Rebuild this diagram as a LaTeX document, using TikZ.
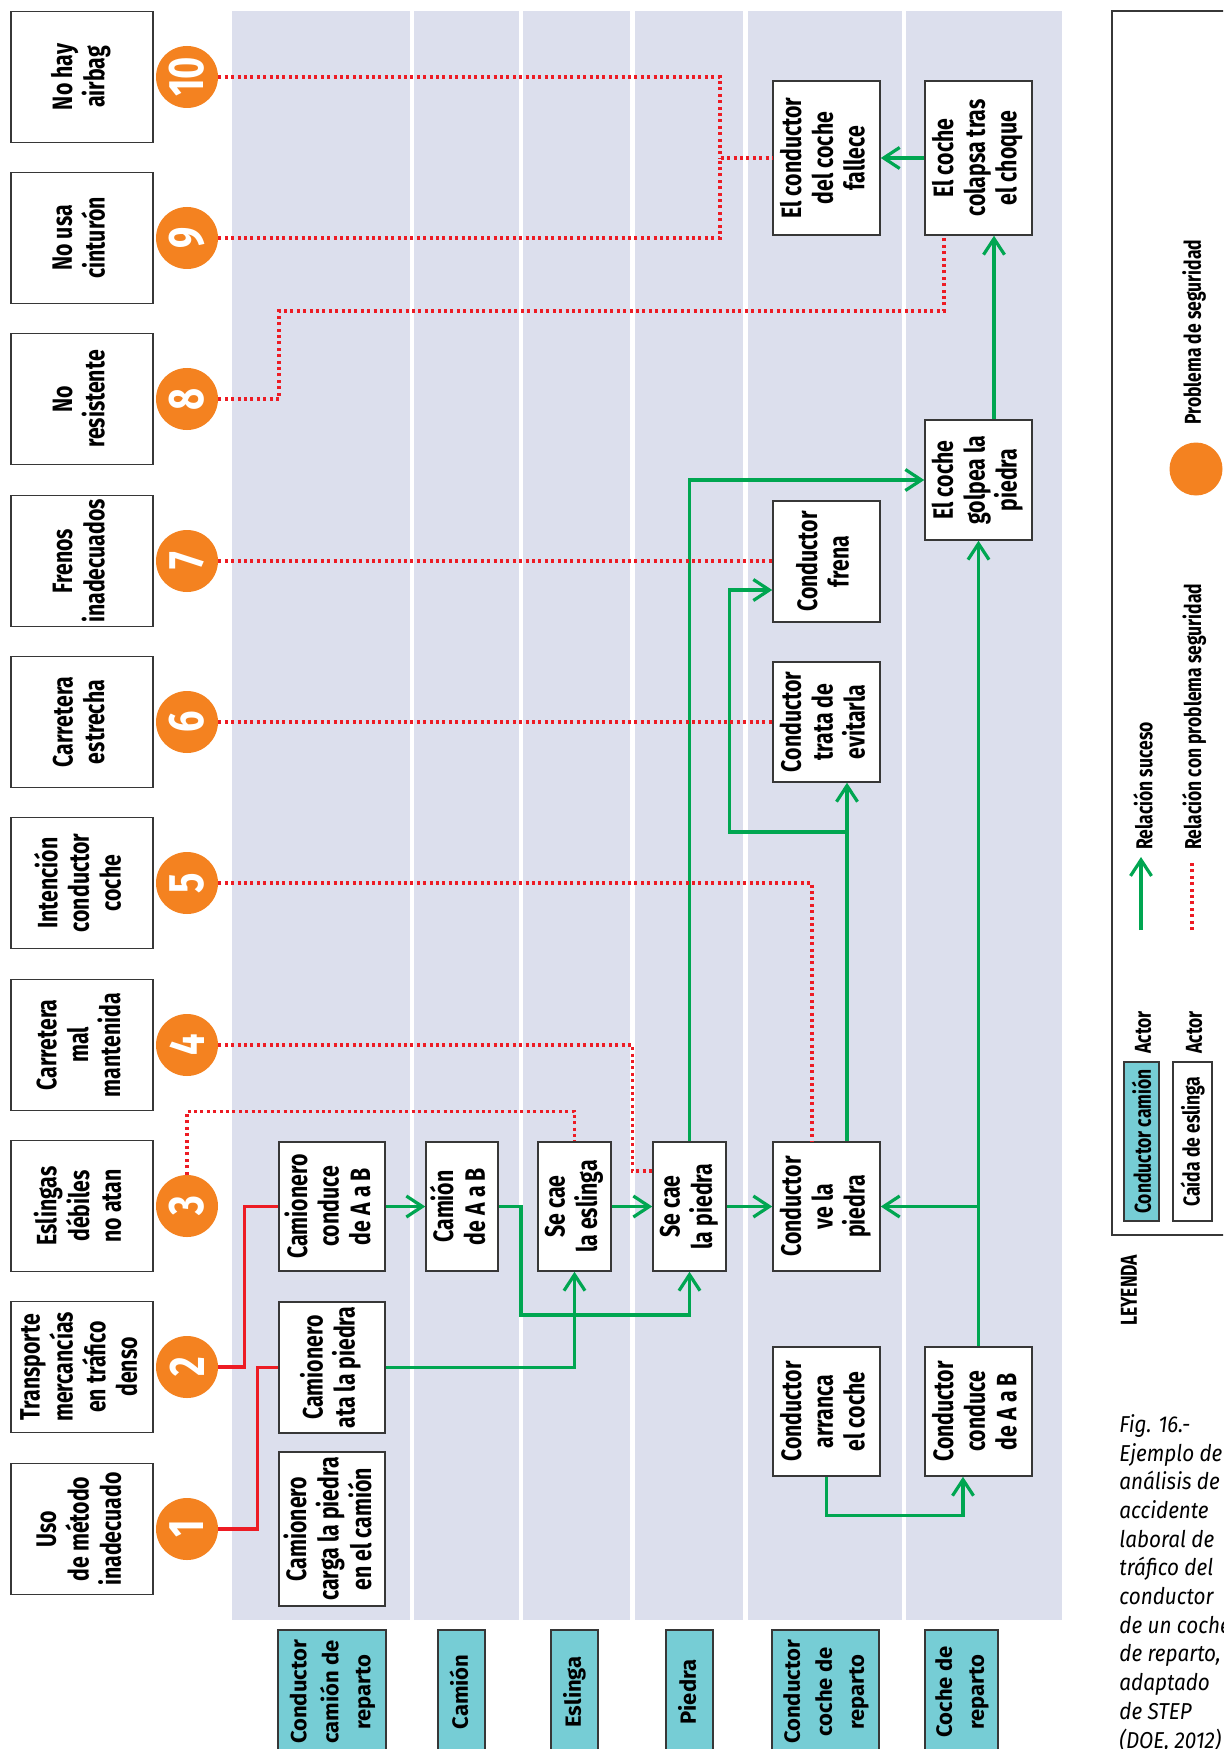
\documentclass[tikz,border=0pt]{standalone}
\usepackage{fontspec}
\usepackage{graphicx}
\usepackage{xcolor}
\usetikzlibrary{arrows.meta}

\setmainfont{Fira Sans}
\newfontfamily\condfont[FakeStretch=0.76]{Fira Sans}
\newfontfamily\capfont[FakeStretch=0.9]{Fira Sans}

\definecolor{lanegray}{RGB}{220,223,237}
\definecolor{boxline}{RGB}{55,55,55}
\definecolor{actorcyan}{RGB}{118,205,213}
\definecolor{sucesogreen}{RGB}{0,166,81}
\definecolor{problemred}{RGB}{237,28,36}
\definecolor{issueorange}{RGB}{244,130,32}

\newcommand{\vtext}[1]{\rotatebox{90}{\begin{tabular}{@{}c@{}}#1\end{tabular}}}
\newcommand{\legfont}{\condfont\bfseries\fontsize{11.5}{13}\selectfont}

\begin{document}
\begin{tikzpicture}[x=0.5pt, y=-0.5pt,
    lane/.style = {fill=lanegray},
    box/.style = {draw=boxline, line width=0.75pt, fill=white, inner sep=0pt,
        font=\condfont\bfseries\fontsize{14}{15.8}\selectfont},
    actor/.style = {box, fill=actorcyan,
        font=\bfseries\fontsize{11}{16}\selectfont},
    problema/.style = {circle, fill=issueorange, minimum size=31pt,
        inner sep=0pt, text=white,
        font=\condfont\bfseries\fontsize{25}{25}\selectfont},
    suceso/.style = {sucesogreen, line width=1.6pt,
        -{Straight Barb[length=8pt,width=10.5pt]}},
    causa/.style = {problemred, line width=1.6pt},
    enlace/.style = {problemred, line width=1.6pt,
        dash pattern=on 1.5pt off 1.7pt}]

\useasboundingbox (0,0) rectangle (1223,1749);
\clip (0,0) rectangle (1223,1749);
\fill[white] (0,0) rectangle (1223,1749);

% Swimlanes
\foreach \xa/\xb in {232/410, 414/519, 523/630, 635/743, 748/902, 906/1062}
    \fill[lane] (\xa,11) rectangle (\xb,1620);

% Safety problems
\foreach \n/\y/\txt in {1/1529/{Uso\\de método\\inadecuado},
        2/1367/{Transporte\\mercancías\\en tráfico\\denso},
        3/1206/{Eslingas\\débiles\\no atan},
        4/1045/{Carretera\\mal\\mantenida},
        5/883/{Intención\\conductor\\coche},
        6/722/{Carretera\\estrecha},
        7/561/{Frenos\\inadecuados},
        8/399/{No\\resistente},
        9/238/{No usa\\cinturón},
        10/77/{No hay\\airbag}} {
    \node[box, minimum width=71pt, minimum height=65.5pt] (f\n) at (82,\y) {\vtext{\txt}};
    \node[problema] (c\n) at (187,\y) {\rotatebox{90}{\n}};
}

% Conductor camion de reparto
\node[box, minimum width=53pt, minimum height=64.5pt] (conduceT) at (332,1206.5) {\vtext{Camionero\\conduce\\de A a B}};
\node[box, minimum width=53pt, minimum height=65.5pt] (ata) at (332,1367.5) {\vtext{Camionero\\ata la piedra}};
\node[box, minimum width=53pt, minimum height=77pt] (carga) at (332,1529) {\vtext{Camionero\\carga la piedra\\en el camión}};

% Camion, eslinga, piedra
\node[box, minimum width=36pt, minimum height=64.5pt] (camion) at (462,1206.5) {\vtext{Camión\\de A a B}};
\node[box, minimum width=36.5pt, minimum height=64.5pt] (eslinga) at (574.5,1206.5) {\vtext{Se cae\\la eslinga}};
\node[box, minimum width=36.5pt, minimum height=64.5pt] (piedra) at (689.5,1206.5) {\vtext{Se cae\\la piedra}};

% Conductor coche de reparto
\node[box, minimum width=53.5pt, minimum height=64.5pt] (ve) at (826.5,1206.5) {\vtext{Conductor\\ve la\\piedra}};
\node[box, minimum width=53.5pt, minimum height=64.5pt] (arranca) at (826.5,1411.5) {\vtext{Conductor\\arranca\\el coche}};
\node[box, minimum width=53.5pt, minimum height=60pt] (evita) at (826.5,722) {\vtext{Conductor\\trata de\\evitarla}};
\node[box, minimum width=53.5pt, minimum height=60.5pt] (frena) at (826.5,561.5) {\vtext{Conductor\\frena}};
\node[box, minimum width=53.5pt, minimum height=77pt] (fallece) at (826.5,158) {\vtext{El conductor\\del coche\\fallece}};

% Coche de reparto
\node[box, minimum width=53.5pt, minimum height=64.5pt] (conduceC) at (978.5,1411.5) {\vtext{Conductor\\conduce\\de A a B}};
\node[box, minimum width=53.5pt, minimum height=60pt] (golpea) at (978.5,480) {\vtext{El coche\\golpea la\\piedra}};
\node[box, minimum width=53.5pt, minimum height=77pt] (colapsa) at (978.5,158) {\vtext{El coche\\colapsa tras\\el choque}};

% Actors
\node[actor, minimum width=54pt, minimum height=62pt] (aCamionero) at (332,1692) {\vtext{Conductor\\camión de\\reparto}};
\node[actor, minimum width=23.5pt, minimum height=62pt] (aCamion) at (461.5,1692) {\vtext{Camión}};
\node[actor, minimum width=23.5pt, minimum height=62pt] (aEslinga) at (574.5,1692) {\vtext{Eslinga}};
\node[actor, minimum width=23.5pt, minimum height=62pt] (aPiedra) at (689.5,1692) {\vtext{Piedra}};
\node[actor, minimum width=53.5pt, minimum height=62pt] (aConductor) at (825.5,1692) {\vtext{Conductor\\coche de\\reparto}};
\node[actor, minimum width=36.5pt, minimum height=62pt] (aCoche) at (961.5,1692) {\vtext{Coche de\\reparto}};

% Event relations
\draw[suceso] (conduceT) -- (camion);
\draw[suceso] (camion.east) -| (521,1315) -| (piedra.south);
\draw[suceso] (ata.east) -| (eslinga.south);
\draw[suceso] (eslinga) -- (piedra);
\draw[suceso] (piedra) -- (ve);
\draw[suceso] (conduceC) -- (golpea);
\draw[suceso] (conduceC.north |- ve.east) -- (ve.east);
\draw[suceso] (arranca.south) -- ++(0,39) -| ([xshift=-7.75pt]conduceC.south);
\draw[suceso] ([xshift=10.25pt]ve.north) -- ([xshift=10.25pt]evita.south);
\coordinate (desvio) at (847,832);
\draw[suceso] (desvio) -| ([xshift=-21.5pt,yshift=-14.25pt]frena.west) -- ([yshift=-14.25pt]frena.west);
\draw[suceso] (piedra.north) |- (golpea.west);
\draw[suceso] ([xshift=7.75pt]golpea.north) -- ([xshift=7.75pt]colapsa.south);
\draw[suceso] (colapsa) -- (fallece);

% Problem relations
\draw[causa] (c1.east) -| ([xshift=-10.5pt]ata.west) -- (ata.west);
\draw[causa] (c2.east) -| ([xshift=-17pt]conduceT.west) -- (conduceT.west);
\draw[enlace] (c3.north) |- ([yshift=15pt]eslinga.north) -- (eslinga.north);
\draw[enlace] (c4.east) -| ([xshift=-10pt,yshift=17.75pt]piedra.west) -- ([yshift=17.75pt]piedra.west);
\draw[enlace] (c5.east) -| ([xshift=-7.25pt]ve.north);
\draw[enlace] (c6.east) -- (c6.east -| evita.west);
\draw[enlace] (c7.east) -- (c7.east -| frena.west);
\draw[enlace] (c8.east) -| (279,311) -| ([xshift=-17.25pt]colapsa.south);
\coordinate (union) at (720,158);
\draw[enlace] (c9.east) -| (union) -- (fallece.west);
\draw[enlace] (c10.east) -| (union);

% Legend
\draw[boxline, line width=0.75pt] (1112,11) rectangle (1240,1235);
\node[actor, font=\legfont, minimum width=17.5pt, minimum height=79.5pt] (legActor) at (1141.5,1141.5) {\rotatebox{90}{Conductor camión}};
\node[box, font=\legfont, minimum width=19.5pt, minimum height=79.5pt] (legSuceso) at (1192.5,1141.5) {\rotatebox{90}{Caída de eslinga}};
\node[font=\legfont, rotate=90, anchor=west, inner sep=0pt] (legA1) at (1143,1054) {Actor};
\node[font=\legfont, rotate=90, anchor=west, inner sep=0pt] (legA2) at (1194,1054) {Actor};
\coordinate (legS1) at (1141,930);
\coordinate (legS2) at (1141,857);
\draw[suceso] (legS1) -- (legS2);
\node[font=\legfont, rotate=90, anchor=west, inner sep=0pt] (legS) at (1143,850) {Relación suceso};
\coordinate (legR1) at (1192,930);
\coordinate (legR2) at (1192,860);
\draw[enlace] (legR1) -- (legR2);
\node[font=\legfont, rotate=90, anchor=west, inner sep=0pt] (legR) at (1194,850) {Relación con problema seguridad};
\node[circle, fill=issueorange, minimum size=26.5pt, inner sep=0pt] (legP) at (1196,469) {};
\node[font=\legfont, rotate=90, anchor=west, inner sep=0pt] (legPtxt) at (1194,425) {Problema de seguridad};
\node[font=\legfont, rotate=90, anchor=west, inner sep=0pt] (leyenda) at (1129,1326) {LEYENDA};

% Caption
\node[anchor=north west, align=left, inner sep=0pt,
    font=\capfont\itshape\fontsize{11.5}{14.35}\selectfont] (pie) at (1119,1414)
    {Fig. 16.-\\Ejemplo de\\análisis de\\accidente\\laboral de\\tráfico del\\conductor\\de un coche\\de reparto,\\adaptado\\de STEP\\(DOE, 2012)};
\end{tikzpicture}
\end{document}
